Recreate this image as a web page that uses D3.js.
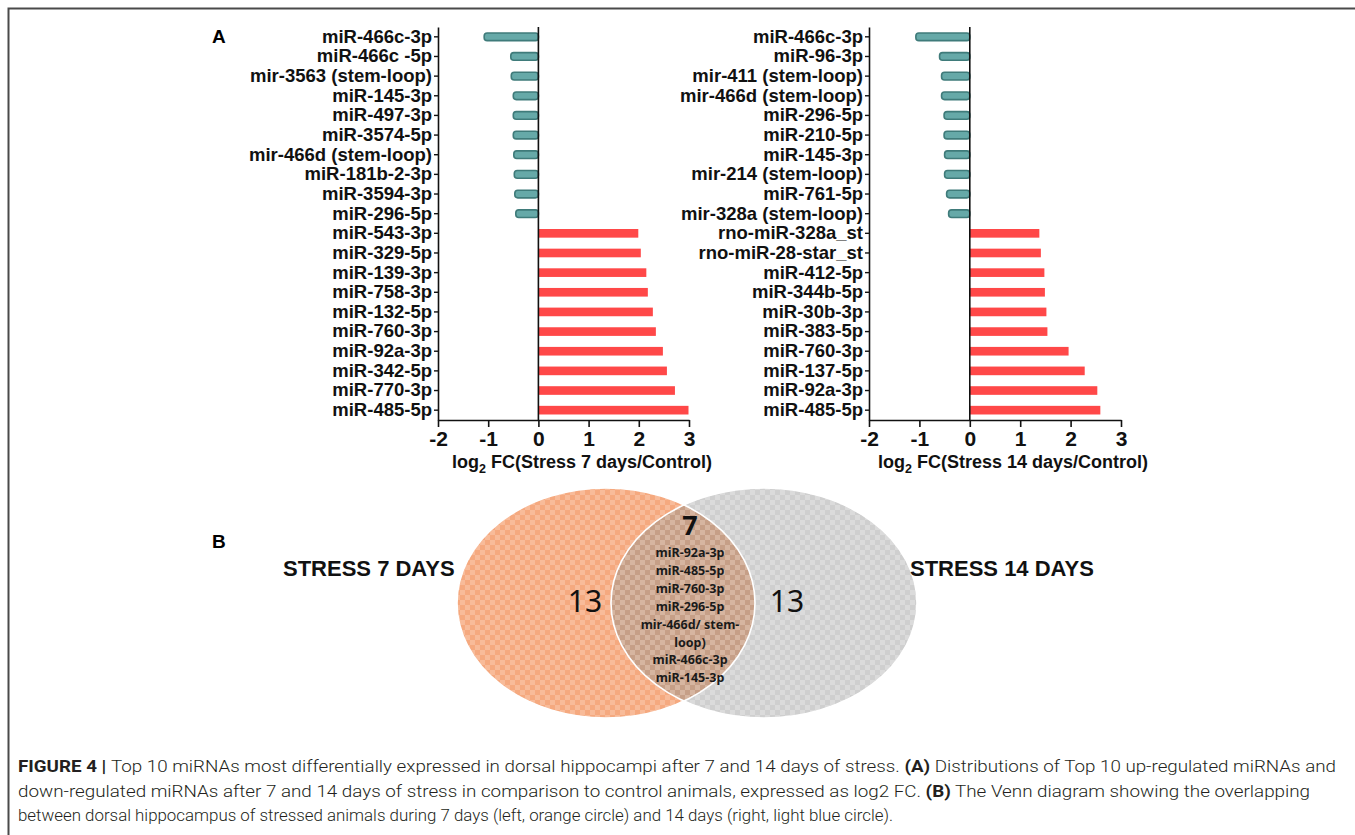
<!DOCTYPE html>
<html>
<head>
<meta charset="utf-8">
<script src="https://cdn.jsdelivr.net/npm/d3@7"></script>
<style>
  body { margin: 0; background: #fff; }
  svg { display: block; }
</style>
</head>
<body>
<svg id="fig" width="1355" height="835"></svg>
<script>
// ---- Panel A: top 10 down / up regulated miRNAs (log2 fold change) ----
const labels7 = [
  "miR-466c-3p", "miR-466c -5p", "mir-3563 (stem-loop)", "miR-145-3p", "miR-497-3p",
  "miR-3574-5p", "mir-466d (stem-loop)", "miR-181b-2-3p", "miR-3594-3p", "miR-296-5p",
  "miR-543-3p", "miR-329-5p", "miR-139-3p", "miR-758-3p", "miR-132-5p",
  "miR-760-3p", "miR-92a-3p", "miR-342-5p", "miR-770-3p", "miR-485-5p"
];
const values7 = [
  -1.08, -0.55, -0.54, -0.50, -0.50, -0.50, -0.49, -0.48, -0.47, -0.45,
  1.99, 2.04, 2.15, 2.18, 2.28, 2.34, 2.48, 2.56, 2.72, 2.99
];
const labels14 = [
  "miR-466c-3p", "miR-96-3p", "mir-411 (stem-loop)", "mir-466d (stem-loop)", "miR-296-5p",
  "miR-210-5p", "miR-145-3p", "mir-214 (stem-loop)", "miR-761-5p", "mir-328a (stem-loop)",
  "rno-miR-328a_st", "rno-miR-28-star_st", "miR-412-5p", "miR-344b-5p", "miR-30b-3p",
  "miR-383-5p", "miR-760-3p", "miR-137-5p", "miR-92a-3p", "miR-485-5p"
];
const values14 = [
  -1.07, -0.60, -0.56, -0.56, -0.51, -0.51, -0.50, -0.50, -0.46, -0.42,
  1.38, 1.41, 1.48, 1.49, 1.52, 1.54, 1.96, 2.28, 2.53, 2.59
];
const xTicks = [-2, -1, 0, 1, 2, 3];
const xTitles = ["FC(Stress 7 days/Control)", "FC(Stress 14 days/Control)"];

// ---- Panel B: Venn diagram ----
const vennSetNames = ["STRESS 7 DAYS", "STRESS 14 DAYS"];
const vennCounts = [13, 7, 13]; // only 7 days, shared, only 14 days
const sharedMiRNAs = [
  "miR-92a-3p", "miR-485-5p", "miR-760-3p", "miR-296-5p",
  "mir-466d/ stem-", "loop)", "miR-466c-3p", "miR-145-3p"
];

// ---- Caption ----
const captionLines = [
  [["FIGURE 4 | ", true], ["Top 10 miRNAs most differentially expressed in dorsal hippocampi after 7 and 14 days of stress. ", false], ["(A)", true], [" Distributions of Top 10 up-regulated miRNAs and", false]],
  [["down-regulated miRNAs after 7 and 14 days of stress in comparison to control animals, expressed as log2 FC. ", false], ["(B)", true], [" The Venn diagram showing the overlapping", false]],
  [["between dorsal hippocampus of stressed animals during 7 days (left, orange circle) and 14 days (right, light blue circle).", false]]
];
const captionWidths = [1318, 1292, 875];

const svg = d3.select("#fig");
const ARIAL = "'Liberation Sans', Arial, Helvetica, sans-serif";

// outer frame (top and left rules)
svg.append("path")
  .attr("d", "M8.5,835 L8.5,8.5 L1355,8.5")
  .attr("fill", "none").attr("stroke", "#4a4a4a").attr("stroke-width", 2);

// panel letters
svg.append("text").attr("x", 212).attr("y", 43).text("A")
  .attr("font-family", ARIAL).attr("font-weight", "bold").attr("font-size", 19);
svg.append("text").attr("x", 212).attr("y", 548).text("B")
  .attr("font-family", ARIAL).attr("font-weight", "bold").attr("font-size", 19);

function drawPanel(labels, values, xRange, title, titleDx) {
  const yTop = 27, yBot = 420;
  const x = d3.scaleLinear().domain([-2, 3]).range(xRange);
  const y = d3.scaleBand().domain(labels).range([yTop, yBot])
    .paddingInner(0.56).paddingOuter(0.28);
  const g = svg.append("g");

  // bars
  const data = labels.map((l, i) => ({ label: l, value: values[i] }));
  g.selectAll("rect.down").data(data.filter(d => d.value < 0)).join("rect")
    .attr("class", "down")
    .attr("x", d => x(d.value))
    .attr("y", d => y(d.label) + 0.5)
    .attr("width", d => x(0) - x(d.value))
    .attr("height", y.bandwidth() - 1)
    .attr("rx", 3)
    .attr("fill", "#66a9a8")
    .attr("stroke", "#3f7b7a")
    .attr("stroke-width", 1.6);
  g.selectAll("rect.up").data(data.filter(d => d.value >= 0)).join("rect")
    .attr("class", "up")
    .attr("x", x(0))
    .attr("y", d => y(d.label))
    .attr("width", d => x(d.value) - x(0))
    .attr("height", y.bandwidth())
    .attr("fill", "#ff4848");

  // zero line
  g.append("line")
    .attr("x1", x(0)).attr("x2", x(0))
    .attr("y1", yTop).attr("y2", yBot)
    .attr("stroke", "#111").attr("stroke-width", 1.6);

  // y axis (category labels)
  const ya = g.append("g").attr("transform", `translate(${xRange[0]},0)`)
    .call(d3.axisLeft(y).tickSize(4).tickSizeOuter(0).tickPadding(2));
  ya.select(".domain").attr("stroke", "#111").attr("stroke-width", 1.6);
  ya.selectAll(".tick line").attr("stroke", "#111").attr("stroke-width", 1.4);
  ya.selectAll(".tick text")
    .attr("font-family", ARIAL).attr("font-weight", "bold")
    .attr("font-size", 18.5).attr("fill", "#111");

  // x axis
  const xa = g.append("g").attr("transform", `translate(0,${yBot})`)
    .call(d3.axisBottom(x).tickValues(xTicks).tickFormat(d => String(d))
      .tickSize(7).tickSizeOuter(0).tickPadding(4));
  xa.select(".domain").attr("stroke", "#111").attr("stroke-width", 1.6);
  xa.selectAll(".tick line").attr("stroke", "#111").attr("stroke-width", 1.6);
  xa.selectAll(".tick text")
    .attr("font-family", ARIAL).attr("font-weight", "bold")
    .attr("font-size", 21).attr("fill", "#111");

  // axis title with subscript
  const t = g.append("text")
    .attr("x", xRange[0] + titleDx).attr("y", 468)
    .attr("font-family", ARIAL).attr("font-weight", "bold")
    .attr("font-size", 18).attr("fill", "#111");
  t.append("tspan").text("log");
  t.append("tspan").attr("dy", 5).attr("font-size", 12.5).text("2");
  t.append("tspan").attr("dy", -5).text(" " + title);
}

drawPanel(labels7, values7, [438, 689], xTitles[0], 14);
drawPanel(labels14, values14, [869, 1121], xTitles[1], 9);

// ---- Venn diagram ----
const defs = svg.append("defs");
function checker(id, base, alt, size) {
  const p = defs.append("pattern").attr("id", id)
    .attr("patternUnits", "userSpaceOnUse")
    .attr("width", size * 2).attr("height", size * 2);
  p.append("rect").attr("width", size * 2).attr("height", size * 2).attr("fill", base);
  p.append("rect").attr("width", size).attr("height", size).attr("fill", alt);
  p.append("rect").attr("x", size).attr("y", size).attr("width", size).attr("height", size).attr("fill", alt);
}
checker("pOrange", "#f5a97f", "#f8bb99", 5);
checker("pGray", "#cfcfcf", "#dbdbdb", 5);
checker("pShared", "#c69f87", "#d6b5a0", 5);

const ellL = { cx: 606, cy: 603, rx: 149, ry: 115 };
const ellR = { cx: 764, cy: 603, rx: 153, ry: 115 };

defs.append("clipPath").attr("id", "clipR")
  .append("ellipse").attr("cx", ellR.cx).attr("cy", ellR.cy).attr("rx", ellR.rx).attr("ry", ellR.ry);

const vg = svg.append("g");
vg.append("ellipse").attr("cx", ellL.cx).attr("cy", ellL.cy).attr("rx", ellL.rx).attr("ry", ellL.ry)
  .attr("fill", "url(#pOrange)");
vg.append("ellipse").attr("cx", ellR.cx).attr("cy", ellR.cy).attr("rx", ellR.rx).attr("ry", ellR.ry)
  .attr("fill", "url(#pGray)");
vg.append("ellipse").attr("cx", ellL.cx).attr("cy", ellL.cy).attr("rx", ellL.rx).attr("ry", ellL.ry)
  .attr("clip-path", "url(#clipR)").attr("fill", "url(#pShared)");
[ellL, ellR].forEach(e => vg.append("ellipse")
  .attr("cx", e.cx).attr("cy", e.cy).attr("rx", e.rx).attr("ry", e.ry)
  .attr("fill", "none").attr("stroke", "#fff").attr("stroke-width", 1.6));

const NOTO = "'Noto Sans', 'Open Sans', sans-serif";
vg.append("text").attr("x", 585).attr("y", 612).attr("text-anchor", "middle")
  .attr("font-family", NOTO).attr("font-size", 30).attr("fill", "#111").text(vennCounts[0]);
vg.append("text").attr("x", 690).attr("y", 535).attr("text-anchor", "middle")
  .attr("font-family", NOTO).attr("font-weight", "bold").attr("font-size", 27).attr("fill", "#111").text(vennCounts[1]);
vg.append("text").attr("x", 787).attr("y", 612).attr("text-anchor", "middle")
  .attr("font-family", NOTO).attr("font-size", 30).attr("fill", "#111").text(vennCounts[2]);

vg.selectAll("text.shared").data(sharedMiRNAs).join("text")
  .attr("class", "shared")
  .attr("x", 690).attr("y", (d, i) => 557 + i * 17.9)
  .attr("text-anchor", "middle")
  .attr("font-family", NOTO).attr("font-weight", "bold").attr("font-size", 12.5)
  .attr("fill", "#1a1a1a").text(d => d);

vg.append("text").attr("x", 283).attr("y", 576)
  .attr("font-family", ARIAL).attr("font-weight", "bold").attr("font-size", 22)
  .attr("fill", "#111").text(vennSetNames[0]);
vg.append("text").attr("x", 910).attr("y", 576)
  .attr("font-family", ARIAL).attr("font-weight", "bold").attr("font-size", 22)
  .attr("fill", "#111").text(vennSetNames[1]);

// ---- Caption ----
const cap = svg.append("g")
  .attr("font-family", "'Liberation Sans Narrow', 'Roboto', 'Liberation Sans', sans-serif")
  .attr("font-size", 16).attr("fill", "#231f20");
captionLines.forEach((line, i) => {
  const t = cap.append("text").attr("x", 18).attr("y", 772 + i * 24.5)
    .attr("textLength", captionWidths[i]).attr("lengthAdjust", "spacingAndGlyphs");
  line.forEach(([s, b]) => t.append("tspan")
    .attr("font-weight", b ? "bold" : 300).text(s));
});
</script>
</body>
</html>
